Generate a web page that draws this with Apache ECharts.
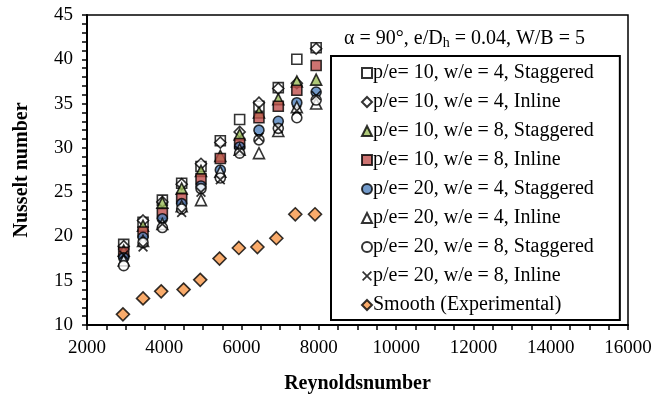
<!DOCTYPE html>
<html><head><meta charset="utf-8">
<script src="https://cdn.jsdelivr.net/npm/echarts@6/dist/echarts.min.js"></script>
<style>html,body{margin:0;padding:0;background:#fff}#c{width:654px;height:401px}</style>
</head><body><div id="c"></div>
<script>
var reynolds = [2950, 3450, 3950, 4450, 4950, 5450, 5950, 6450, 6950, 7430, 7930];
var smoothRe = [2930, 3450, 3920, 4500, 4930, 5430, 5930, 6410, 6900, 7390, 7900];
var smoothNu = [11.2, 13.0, 13.8, 14.0, 15.1, 17.5, 18.7, 18.8, 19.8, 22.5, 22.5];
var nuP10W4Stag = [19.1, 21.6, 24.1, 26.0, 27.9, 30.8, 33.2, 34.7, 36.8, 40.0, 41.3];
var nuP10W4Inl  = [18.9, 21.8, 23.9, 25.9, 28.2, 30.6, 31.8, 35.1, 36.7, 37.3, 41.2];
var nuP10W8Stag = [18.4, 21.2, 23.8, 25.4, 27.4, 29.1, 31.5, 34.0, 35.5, 37.5, 37.7];
var nuP10W8Inl  = [18.2, 20.5, 22.6, 24.3, 26.5, 28.8, 30.5, 33.4, 34.7, 36.5, 39.3];
var nuP20W4Stag = [17.6, 19.9, 22.0, 23.7, 25.7, 27.5, 30.1, 32.0, 33.0, 35.1, 36.3];
var nuP20W4Inl  = [17.3, 19.5, 21.4, 23.4, 24.1, 27.3, 29.8, 29.4, 31.9, 34.6, 35.0];
var nuP20W8Stag = [16.7, 19.3, 21.0, 23.1, 25.4, 26.6, 29.4, 30.9, 32.2, 33.4, 35.4];
var nuP20W8Inl  = [17.9, 18.8, 21.4, 22.7, 25.0, 26.4, 29.7, 31.2, 32.2, 34.2, 35.9];
var seriesNames = ['p/e= 10, w/e = 4, Staggered','p/e= 10, w/e = 4, Inline','p/e= 10, w/e = 8, Staggered','p/e= 10, w/e = 8, Inline','p/e= 20, w/e = 4, Staggered','p/e= 20, w/e = 4, Inline','p/e= 20, w/e = 8, Staggered','p/e= 20, w/e = 8, Inline','Smooth (Experimental)'];
var xTicks = [2000, 4000, 6000, 8000, 10000, 12000, 14000, 16000];
var yTicks = [10, 15, 20, 25, 30, 35, 40, 45];

function pairs(xs, ys){ return xs.map(function(x,i){ return [x, ys[i]]; }); }
var FONT = 'Liberation Serif';
var X_PATH = 'path://M0,1.2 L1.2,0 L5,3.8 L8.8,0 L10,1.2 L6.2,5 L10,8.8 L8.8,10 L5,6.2 L1.2,10 L0,8.8 L3.8,5 Z';
var styles = [
  {symbol:'rect', fill:'#fff', size:10},
  {symbol:'diamond', fill:'#fff', size:11},
  {symbol:'triangle', fill:'#9BBB59', size:11},
  {symbol:'rect', fill:'#C0504D', size:10},
  {symbol:'circle', fill:'#4F81BD', size:10},
  {symbol:'triangle', fill:'#fff', size:11},
  {symbol:'circle', fill:'#fff', size:10},
  {symbol:X_PATH, fill:'#000', size:10, noBorder:true}
];
var datasets = [nuP10W4Stag, nuP10W4Inl, nuP10W8Stag, nuP10W8Inl, nuP20W4Stag, nuP20W4Inl, nuP20W8Stag, nuP20W8Inl];
var series = datasets.map(function(d,i){
  var s = styles[i];
  return {name: seriesNames[i], type:'scatter', data: pairs(reynolds, d), symbol: s.symbol, symbolSize: s.size,
    itemStyle:{color:s.fill, borderColor:'#000', borderWidth: s.noBorder?0:1.6}};
});
series.push({name: seriesNames[8], type:'scatter', data: pairs(smoothRe, smoothNu), symbol:'diamond', symbolSize:13,
  itemStyle:{color:'#F79646', borderColor:'#000', borderWidth:1.6}});

var chart = echarts.init(document.getElementById('c'), null, {renderer:'canvas'});
chart.setOption({
  animation:false,
  backgroundColor:'#fff',
  grid:{left:87, right:26, top:15, bottom:76, containLabel:false, outerBoundsMode:'none',
    show:true, borderColor:'#000', borderWidth:1.5, backgroundColor:'transparent'},
  title:{left:344, top:27, padding:0, text:'{a|α = 90°, e/D}{s|h}{a| = 0.04, W/B = 5}',
    textStyle:{rich:{a:{fontFamily:FONT, fontSize:20, fontWeight:'normal', color:'#000'}, s:{fontFamily:FONT, fontSize:14, fontWeight:'normal', color:'#000', padding:[9,0,0,0]}}}},
  legend:{orient:'vertical', left:331, top:56, itemWidth:10, itemHeight:10, itemGap:9,
    padding:[7,26,5,30], borderColor:'#000', borderWidth:2, backgroundColor:'#fff',
    textStyle:{fontFamily:FONT, fontSize:20, color:'#000', lineHeight:20, padding:[0,0,0,-4]},
    data: seriesNames},
  xAxis:{type:'value', min:2000, max:16000, interval:2000,
    name:'Reynoldsnumber', nameLocation:'middle', nameGap:49,
    nameTextStyle:{fontFamily:FONT, fontSize:20, fontWeight:'bold', color:'#000'},
    axisLine:{show:true, lineStyle:{color:'#000', width:2}},
    axisTick:{show:true, inside:false, length:5, lineStyle:{color:'#000', width:1.5}},
    minorTick:{show:true, splitNumber:4, length:5, lineStyle:{color:'#000', width:1.5}},
    splitLine:{show:false},
    axisLabel:{fontFamily:FONT, fontSize:19, color:'#000', margin:14, formatter:function(v){return String(v);}}},
  yAxis:{type:'value', min:10, max:45, interval:5,
    name:'Nusselt number', nameLocation:'middle', nameGap:55, nameRotate:90,
    nameTextStyle:{fontFamily:FONT, fontSize:20, fontWeight:'bold', color:'#000'},
    axisLine:{show:true, lineStyle:{color:'#000', width:2}},
    axisTick:{show:true, inside:false, length:5, lineStyle:{color:'#000', width:1.5}},
    minorTick:{show:true, splitNumber:5, length:5, lineStyle:{color:'#000', width:1.5}},
    splitLine:{show:false},
    axisLabel:{fontFamily:FONT, fontSize:19, color:'#000', margin:14}},
  series: series
});
</script></body></html>
